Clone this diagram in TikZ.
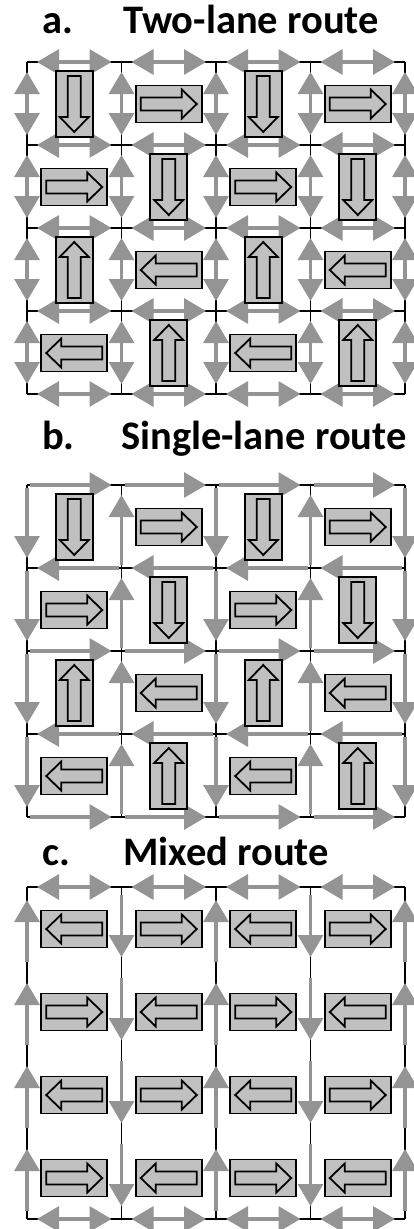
\documentclass[tikz,border=0pt]{standalone}
\usepackage{fontspec}
\setmainfont{Carlito}
\usetikzlibrary{arrows.meta}
\definecolor{lanegray}{RGB}{148,148,148}
\definecolor{blockgray}{RGB}{192,192,192}
\tikzset{
  grid line/.style={black, line width=1.3pt},
  lane/.style={draw=lanegray, line width=3.2pt,
    >={Triangle[length=22pt 0 0, width=25pt 0 0]}},
  lane two/.style={lane, <->, shorten <=10pt, shorten >=10pt},
  lane one/.style={lane, ->, shorten <=3pt, shorten >=10pt},
  lane side/.style={lane, ->, shorten <=8pt, shorten >=13pt},
  bld/.style={draw=black, fill=blockgray, line width=1.8pt, minimum width=66pt,
    minimum height=37pt, inner sep=0pt},
  title/.style={anchor=base west, inner sep=0pt, font=\fontsize{40.5}{44}\selectfont\bfseries},
  blockarrow/.pic={
    \draw[black, line width=1.8pt, fill=blockgray, line join=miter]
      (-28,-6.5) -- (13,-6.5) -- (13,-14.5) -- (28,0) -- (13,14.5) -- (13,6.5) -- (-28,6.5) -- cycle;
  }
}
\begin{document}
\begin{tikzpicture}[x=1pt, y=-1pt]
\useasboundingbox (0,0) rectangle (414,1229);

% ---------- titles ----------
\node[title] (la) at (42,33) {a.};
\node[title] (ta) at (123,33) {Two-lane route};
\node[title] (lb) at (42,449) {b.};
\node[title] (tb) at (121,449) {Single-lane route};
\node[title] (lc) at (42,865) {c.};
\node[title] (tc) at (123,865) {Mixed route};

% ---------- street corners ----------
\foreach \i in {0,...,4}{
  \foreach \j in {0,...,4}{
    \coordinate (a\i\j) at ({27+94.5*\i},{62+83*\j});
    \coordinate (b\i\j) at ({27+94.5*\i},{485+83*\j});
    \coordinate (c\i\j) at ({27+94.5*\i},{887+83*\j});
  }
}

% ---------- black street grid ----------
\foreach \i in {0,...,4}{
  \draw[grid line] (a\i0) -- (a\i4);
  \draw[grid line] (a0\i) -- (a4\i);
  \draw[grid line] (b\i0) -- (b\i4);
  \draw[grid line] (b0\i) -- (b4\i);
  \draw[grid line] (c\i0) -- (c\i4);
}
\draw[grid line] (c00) -- (c40);
\draw[grid line] (c04) -- (c44);

% ---------- a. two-lane streets ----------
\foreach \j in {0,...,4}{
  \foreach \i [count=\k from 1] in {0,...,3}{
    \draw[lane two] (a\i\j) -- (a\k\j);
    \draw[lane two] (a\j\i) -- (a\j\k);
  }
}

% ---------- b. single-lane streets ----------
\foreach \j in {0,...,4}{
  \foreach \i [count=\k from 1] in {0,...,3}{
    \ifodd\j
      \draw[lane one] (b\k\j) -- (b\i\j);
      \draw[lane one] (b\j\k) -- (b\j\i);
    \else
      \draw[lane one] (b\i\j) -- (b\k\j);
      \draw[lane one] (b\j\i) -- (b\j\k);
    \fi
  }
}

% ---------- c. mixed streets ----------
\foreach \i [count=\k from 1] in {0,...,3}{
  \draw[lane two] (c\i0) -- (c\k0);
  \draw[lane two] (c\i4) -- (c\k4);
}
\foreach \i in {0,...,4}{
  \foreach \j [count=\k from 1] in {0,...,3}{
    \ifodd\i
      \draw[lane side] (c\i\j) -- (c\i\k);
    \else
      \draw[lane side] (c\i\k) -- (c\i\j);
    \fi
  }
}

% ---------- blocks with their traffic direction ----------
\foreach \c/\r/\ang in {0/0/-90, 1/0/0, 2/0/-90, 3/0/0,
                        0/1/0, 1/1/-90, 2/1/0, 3/1/-90,
                        0/2/90, 1/2/180, 2/2/90, 3/2/180,
                        0/3/180, 1/3/90, 2/3/180, 3/3/90}{
  \node[bld, rotate=\ang] (ba\c\r) at ({74.25+94.5*\c},{104+83*\r}) {};
  \pic[rotate=\ang] at (ba\c\r) {blockarrow};
  \node[bld, rotate=\ang] (bb\c\r) at ({74.25+94.5*\c},{527+83*\r}) {};
  \pic[rotate=\ang] at (bb\c\r) {blockarrow};
}
\foreach \c/\r/\ang in {0/0/180, 1/0/0, 2/0/180, 3/0/0,
                        0/1/0, 1/1/180, 2/1/0, 3/1/180,
                        0/2/180, 1/2/0, 2/2/180, 3/2/0,
                        0/3/0, 1/3/180, 2/3/0, 3/3/180}{
  \node[bld, rotate=\ang] (bc\c\r) at ({74.25+94.5*\c},{929+83*\r}) {};
  \pic[rotate=\ang] at (bc\c\r) {blockarrow};
}
\end{tikzpicture}
\end{document}
